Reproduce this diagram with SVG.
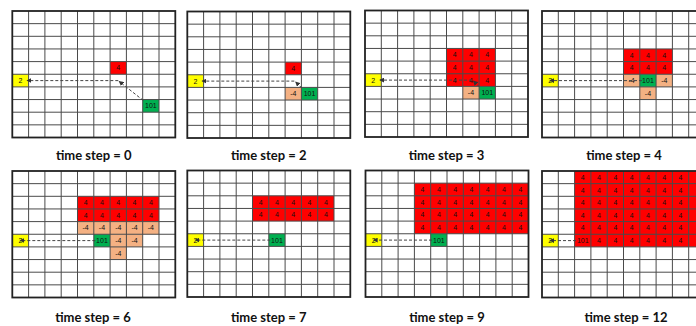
<svg xmlns="http://www.w3.org/2000/svg" xmlns:xlink="http://www.w3.org/1999/xlink" width="696" height="326" viewBox="0 0 696 326">
<style>
.bg{fill:#fff}
.r{fill:#ff0000}
.o{fill:#f4b183}
.g{fill:#00b050}
.y{fill:#ffff00}
.t{font-family:"Liberation Sans",Arial,sans-serif;font-size:7px;fill:#111;text-anchor:middle}
.lbl{font-family:Lato,"Liberation Sans",sans-serif;font-weight:bold;font-size:13px;fill:#111;text-anchor:middle}
.d{stroke:#444;stroke-width:1;stroke-dasharray:3 2;fill:none;marker-end:url(#ah)}
</style>
<defs>
<marker id="ah" viewBox="0 0 6 6" refX="5" refY="3" markerWidth="5" markerHeight="5" orient="auto"><path d="M0,0 L6,3 L0,6 z" fill="#333"/></marker>
<g id="gl">
<path d="M16.3,0V126.5M32.6,0V126.5M48.9,0V126.5M65.2,0V126.5M81.5,0V126.5M97.8,0V126.5M114.1,0V126.5M130.4,0V126.5M146.7,0V126.5M0,12.65H163M0,25.3H163M0,37.95H163M0,50.6H163M0,63.25H163M0,75.9H163M0,88.55H163M0,101.2H163M0,113.85H163" stroke="#4a4a4a" stroke-width="1" fill="none"/>
<rect x="0" y="0" width="163" height="126.5" fill="none" stroke="#222" stroke-width="1.8"/>
</g>
</defs>

<g id="grid-t0" transform="translate(12.3,11)">
<rect class="bg" width="163" height="126.5"/>
<rect class="r" x="97.8" y="50.6" width="16.3" height="12.65"/>
<rect class="y" x="0" y="63.25" width="16.3" height="12.65"/>
<rect class="g" x="130.4" y="88.55" width="16.3" height="12.65"/>
<use xlink:href="#gl"/>
<text class="t" x="105.95" y="59.4">4</text>
<text class="t" x="8.15" y="72.1">2</text>
<text class="t" x="138.55" y="97.4">101</text>
</g>

<g id="grid-t2" transform="translate(187.3,11.5)">
<rect class="bg" width="163" height="126.5"/>
<rect class="r" x="97.8" y="50.6" width="16.3" height="12.65"/>
<rect class="y" x="0" y="63.25" width="16.3" height="12.65"/>
<rect class="o" x="97.8" y="75.9" width="16.3" height="12.65"/>
<rect class="g" x="114.1" y="75.9" width="16.3" height="12.65"/>
<use xlink:href="#gl"/>
<text class="t" x="105.95" y="59.4">4</text>
<text class="t" x="8.15" y="72.1">2</text>
<text class="t" x="105.95" y="84.7">-4</text>
<text class="t" x="122.25" y="84.7">101</text>
</g>

<g id="grid-t3" transform="translate(365,10.5)">
<rect class="bg" width="163" height="126.5"/>
<rect class="r" x="81.5" y="37.95" width="48.9" height="37.95"/>
<rect class="y" x="0" y="63.25" width="16.3" height="12.65"/>
<rect class="o" x="97.8" y="75.9" width="16.3" height="12.65"/>
<rect class="g" x="114.1" y="75.9" width="16.3" height="12.65"/>
<use xlink:href="#gl"/>
<text class="t" x="89.65" y="46.8">4</text><text class="t" x="105.95" y="46.8">4</text><text class="t" x="122.25" y="46.8">4</text>
<text class="t" x="89.65" y="59.4">4</text><text class="t" x="105.95" y="59.4">4</text><text class="t" x="122.25" y="59.4">4</text>
<text class="t" x="89.65" y="72.1">4</text><text class="t" x="105.95" y="72.1">4</text><text class="t" x="122.25" y="72.1">4</text>
<text class="t" x="8.15" y="72.1">2</text>
<text class="t" x="105.95" y="84.7">-4</text>
<text class="t" x="122.25" y="84.7">101</text>
</g>

<g id="grid-t4" transform="translate(542,11)">
<rect class="bg" width="163" height="126.5"/>
<rect class="r" x="81.5" y="37.95" width="48.9" height="25.3"/>
<rect class="y" x="0" y="63.25" width="16.3" height="12.65"/>
<rect class="o" x="81.5" y="63.25" width="16.3" height="12.65"/>
<rect class="g" x="97.8" y="63.25" width="16.3" height="12.65"/>
<rect class="o" x="114.1" y="63.25" width="16.3" height="12.65"/>
<rect class="o" x="97.8" y="75.9" width="16.3" height="12.65"/>
<use xlink:href="#gl"/>
<text class="t" x="89.65" y="46.8">4</text><text class="t" x="105.95" y="46.8">4</text><text class="t" x="122.25" y="46.8">4</text>
<text class="t" x="89.65" y="59.4">4</text><text class="t" x="105.95" y="59.4">4</text><text class="t" x="122.25" y="59.4">4</text>
<text class="t" x="8.15" y="72.1">2</text>
<text class="t" x="89.65" y="72.1">-4</text>
<text class="t" x="105.95" y="72.1">101</text>
<text class="t" x="122.25" y="72.1">-4</text>
<text class="t" x="105.95" y="84.7">-4</text>
</g>

<g id="grid-t6" transform="translate(12.3,171)">
<rect class="bg" width="163" height="126.5"/>
<rect class="r" x="65.2" y="25.3" width="81.5" height="25.3"/>
<rect class="o" x="65.2" y="50.6" width="81.5" height="12.65"/>
<rect class="y" x="0" y="63.25" width="16.3" height="12.65"/>
<rect class="g" x="81.5" y="63.25" width="16.3" height="12.65"/>
<rect class="o" x="97.8" y="63.25" width="32.6" height="12.65"/>
<rect class="o" x="97.8" y="75.9" width="16.3" height="12.65"/>
<use xlink:href="#gl"/>
<text class="t" x="73.35" y="34.1">4</text><text class="t" x="89.65" y="34.1">4</text><text class="t" x="105.95" y="34.1">4</text><text class="t" x="122.25" y="34.1">4</text><text class="t" x="138.55" y="34.1">4</text>
<text class="t" x="73.35" y="46.8">4</text><text class="t" x="89.65" y="46.8">4</text><text class="t" x="105.95" y="46.8">4</text><text class="t" x="122.25" y="46.8">4</text><text class="t" x="138.55" y="46.8">4</text>
<text class="t" x="73.35" y="59.4">-4</text><text class="t" x="89.65" y="59.4">-4</text><text class="t" x="105.95" y="59.4">-4</text><text class="t" x="122.25" y="59.4">-4</text><text class="t" x="138.55" y="59.4">-4</text>
<text class="t" x="8.15" y="72.1">2</text>
<text class="t" x="89.65" y="72.1">101</text>
<text class="t" x="105.95" y="72.1">-4</text><text class="t" x="122.25" y="72.1">-4</text>
<text class="t" x="105.95" y="84.7">-4</text>
</g>

<g id="grid-t7" transform="translate(187.3,170.5)">
<rect class="bg" width="163" height="126.5"/>
<rect class="r" x="65.2" y="25.3" width="81.5" height="25.3"/>
<rect class="y" x="0" y="63.25" width="16.3" height="12.65"/>
<rect class="g" x="81.5" y="63.25" width="16.3" height="12.65"/>
<use xlink:href="#gl"/>
<text class="t" x="73.35" y="34.1">4</text><text class="t" x="89.65" y="34.1">4</text><text class="t" x="105.95" y="34.1">4</text><text class="t" x="122.25" y="34.1">4</text><text class="t" x="138.55" y="34.1">4</text>
<text class="t" x="73.35" y="46.8">4</text><text class="t" x="89.65" y="46.8">4</text><text class="t" x="105.95" y="46.8">4</text><text class="t" x="122.25" y="46.8">4</text><text class="t" x="138.55" y="46.8">4</text>
<text class="t" x="8.15" y="72.1">2</text>
<text class="t" x="89.65" y="72.1">101</text>
</g>

<g id="grid-t9" transform="translate(365.5,170.5)">
<rect class="bg" width="163" height="126.5"/>
<rect class="r" x="48.9" y="12.65" width="114.1" height="50.6"/>
<rect class="y" x="0" y="63.25" width="16.3" height="12.65"/>
<rect class="g" x="65.2" y="63.25" width="16.3" height="12.65"/>
<use xlink:href="#gl"/>
<text class="t" x="57.05" y="21.5">4</text><text class="t" x="73.35" y="21.5">4</text><text class="t" x="89.65" y="21.5">4</text><text class="t" x="105.95" y="21.5">4</text><text class="t" x="122.25" y="21.5">4</text><text class="t" x="138.55" y="21.5">4</text><text class="t" x="154.85" y="21.5">4</text>
<text class="t" x="57.05" y="34.1">4</text><text class="t" x="73.35" y="34.1">4</text><text class="t" x="89.65" y="34.1">4</text><text class="t" x="105.95" y="34.1">4</text><text class="t" x="122.25" y="34.1">4</text><text class="t" x="138.55" y="34.1">4</text><text class="t" x="154.85" y="34.1">4</text>
<text class="t" x="57.05" y="46.8">4</text><text class="t" x="73.35" y="46.8">4</text><text class="t" x="89.65" y="46.8">4</text><text class="t" x="105.95" y="46.8">4</text><text class="t" x="122.25" y="46.8">4</text><text class="t" x="138.55" y="46.8">4</text><text class="t" x="154.85" y="46.8">4</text>
<text class="t" x="57.05" y="59.4">4</text><text class="t" x="73.35" y="59.4">4</text><text class="t" x="89.65" y="59.4">4</text><text class="t" x="105.95" y="59.4">4</text><text class="t" x="122.25" y="59.4">4</text><text class="t" x="138.55" y="59.4">4</text><text class="t" x="154.85" y="59.4">4</text>
<text class="t" x="8.15" y="72.1">2</text>
<text class="t" x="73.35" y="72.1">101</text>
</g>

<g id="grid-t12" transform="translate(542,171)">
<rect class="bg" width="163" height="126.5"/>
<rect class="r" x="32.6" y="0" width="130.4" height="75.9"/>
<rect class="y" x="0" y="63.25" width="16.3" height="12.65"/>
<use xlink:href="#gl"/>
<text class="t" x="40.75" y="8.8">4</text><text class="t" x="57.05" y="8.8">4</text><text class="t" x="73.35" y="8.8">4</text><text class="t" x="89.65" y="8.8">4</text><text class="t" x="105.95" y="8.8">4</text><text class="t" x="122.25" y="8.8">4</text><text class="t" x="138.55" y="8.8">4</text>
<text class="t" x="40.75" y="21.5">4</text><text class="t" x="57.05" y="21.5">4</text><text class="t" x="73.35" y="21.5">4</text><text class="t" x="89.65" y="21.5">4</text><text class="t" x="105.95" y="21.5">4</text><text class="t" x="122.25" y="21.5">4</text><text class="t" x="138.55" y="21.5">4</text>
<text class="t" x="40.75" y="34.1">4</text><text class="t" x="57.05" y="34.1">4</text><text class="t" x="73.35" y="34.1">4</text><text class="t" x="89.65" y="34.1">4</text><text class="t" x="105.95" y="34.1">4</text><text class="t" x="122.25" y="34.1">4</text><text class="t" x="138.55" y="34.1">4</text>
<text class="t" x="40.75" y="46.8">4</text><text class="t" x="57.05" y="46.8">4</text><text class="t" x="73.35" y="46.8">4</text><text class="t" x="89.65" y="46.8">4</text><text class="t" x="105.95" y="46.8">4</text><text class="t" x="122.25" y="46.8">4</text><text class="t" x="138.55" y="46.8">4</text>
<text class="t" x="40.75" y="59.4">4</text><text class="t" x="57.05" y="59.4">4</text><text class="t" x="73.35" y="59.4">4</text><text class="t" x="89.65" y="59.4">4</text><text class="t" x="105.95" y="59.4">4</text><text class="t" x="122.25" y="59.4">4</text><text class="t" x="138.55" y="59.4">4</text>
<text class="t" x="8.15" y="72.1">2</text>
<text class="t" x="40.75" y="72.1">101</text><text class="t" x="57.05" y="72.1">4</text><text class="t" x="73.35" y="72.1">4</text><text class="t" x="89.65" y="72.1">4</text><text class="t" x="105.95" y="72.1">4</text><text class="t" x="122.25" y="72.1">4</text><text class="t" x="138.55" y="72.1">4</text>
</g>

<g id="connectors">
<g transform="translate(12.3,11)"><path class="d" d="M131,89.5 L107,70.5"/><path class="d" d="M106,69.6 L15,69.6"/></g>
<g transform="translate(187.3,11.5)"><path class="d" d="M114.5,76.5 L108.5,70.5"/><path class="d" d="M107,69.6 L15,69.6"/></g>
<g transform="translate(365,10.5)"><path class="d" d="M114.5,76.5 L108.5,70.5"/><path class="d" d="M107,69.6 L15,69.6"/></g>
<g transform="translate(542,11)"><path class="d" d="M100,69.6 L8,69.6"/></g>
<g transform="translate(12.3,171)"><path class="d" d="M83,69.6 L8,69.6"/></g>
<g transform="translate(187.3,170.5)"><path class="d" d="M83,69.6 L8,69.6"/></g>
<g transform="translate(365.5,170.5)"><path class="d" d="M66.5,69.6 L8,69.6"/></g>
<g transform="translate(542,171)"><path class="d" d="M34,69.6 L8,69.6"/></g>
</g>

<g id="labels">
<text class="lbl" x="93.8" y="160">time step = 0</text>
<text class="lbl" x="268.8" y="160">time step = 2</text>
<text class="lbl" x="446.5" y="160">time step = 3</text>
<text class="lbl" x="624" y="160">time step = 4</text>
<text class="lbl" x="93" y="322">time step = 6</text>
<text class="lbl" x="268.8" y="322">time step = 7</text>
<text class="lbl" x="447" y="322">time step = 9</text>
<text class="lbl" x="626" y="322">time step = 12</text>
</g>
</svg>
